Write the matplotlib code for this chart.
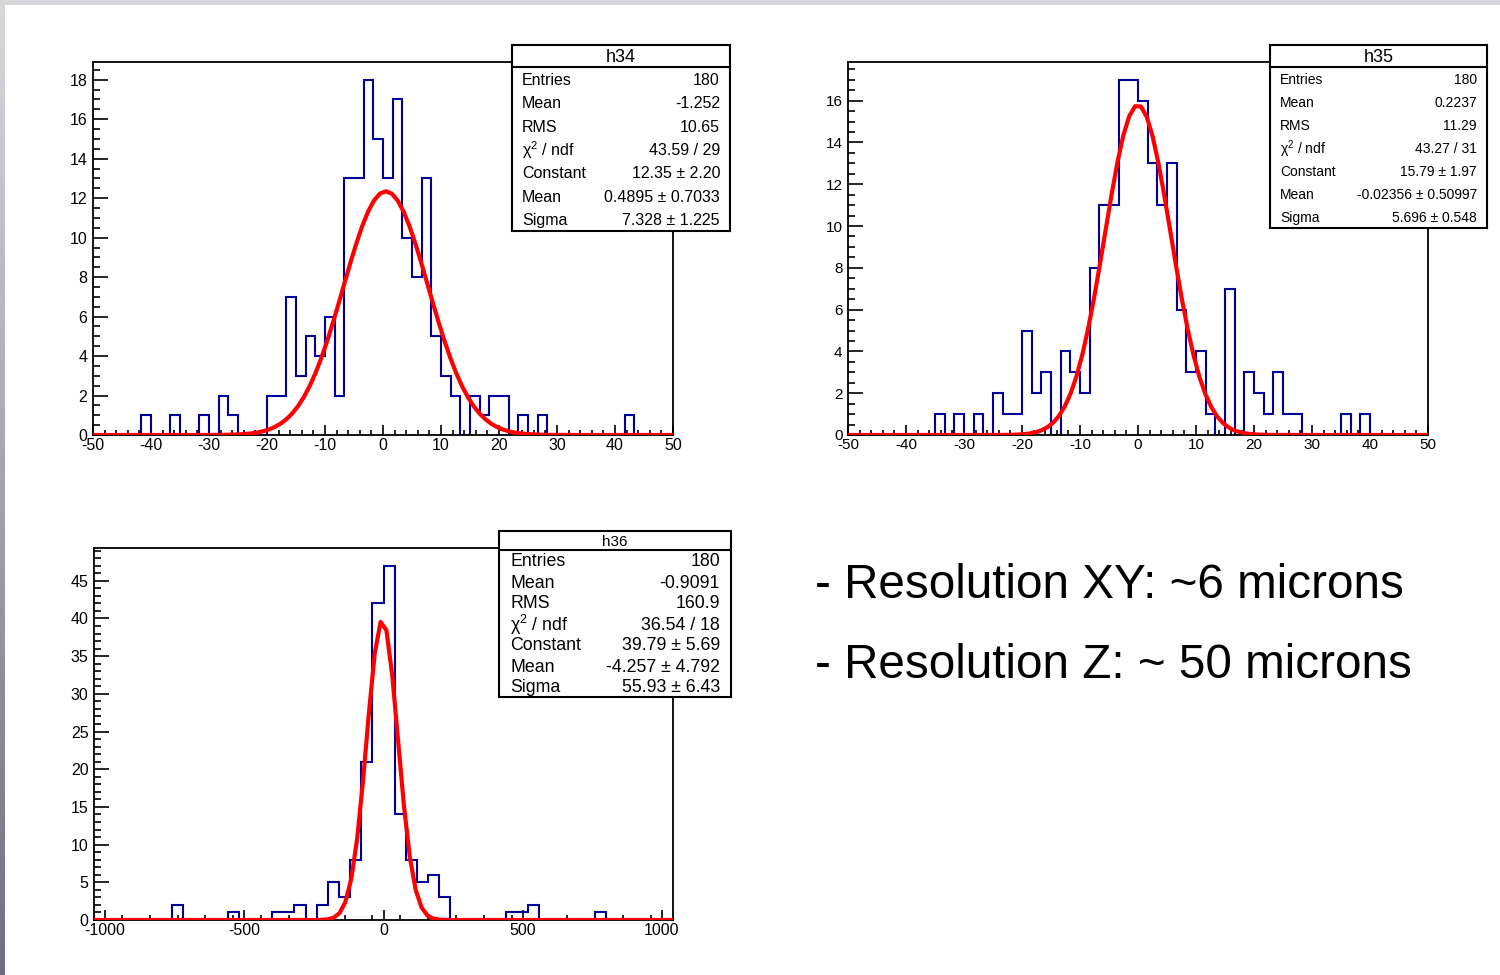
import numpy as np
import matplotlib
matplotlib.use("Agg")
import matplotlib.pyplot as plt

plt.rcParams['font.family'] = ['Liberation Sans', 'DejaVu Sans']
plt.rcParams['mathtext.fontset'] = 'custom'
plt.rcParams['mathtext.rm'] = 'Liberation Sans'
plt.rcParams['mathtext.it'] = 'Liberation Sans:italic'
plt.rcParams['axes.unicode_minus'] = False

# ---- data ----
h34_range = (-50, 50)
h34_counts = [0, 0, 0, 0, 0, 1, 0, 0, 1, 0,
              0, 1, 0, 2, 1, 0, 0, 0, 2, 2,
              7, 3, 5, 4, 6, 2, 13, 13, 18, 15,
              13, 17, 10, 8, 13, 5, 3, 2, 0, 2,
              1, 2, 2, 0, 1, 0, 1, 0, 0, 0,
              0, 0, 0, 0, 0, 1, 0, 0, 0, 0]
h34_fit = (12.35, 0.4895, 7.328)
h34_stats = [("Entries", "180"), ("Mean", "-1.252"), ("RMS", "10.65"),
             ("χ$^{2}$ / ndf", "43.59 / 29"), ("Constant", "12.35 ± 2.20"),
             ("Mean", "0.4895 ± 0.7033"), ("Sigma", "7.328 ± 1.225")]

h35_range = (-50, 50)
h35_counts = [0, 0, 0, 0, 0, 0, 0, 0, 0, 1,
              0, 1, 0, 1, 0, 2, 1, 1, 5, 2,
              3, 0, 4, 3, 2, 8, 11, 11, 17, 17,
              16, 13, 11, 13, 6, 3, 4, 1, 0, 7,
              0, 3, 2, 1, 3, 1, 1, 0, 0, 0,
              0, 1, 0, 1, 0, 0, 0, 0, 0, 0]
h35_fit = (15.79, -0.02356, 5.696)
h35_stats = [("Entries", "180"), ("Mean", "0.2237"), ("RMS", "11.29"),
             ("χ$^{2}$ / ndf", "43.27 / 31"), ("Constant", "15.79 ± 1.97"),
             ("Mean", "-0.02356 ± 0.50997"), ("Sigma", "5.696 ± 0.548")]

h36_range = (-1040, 1040)
h36_counts = [0, 0, 0, 0, 0, 0, 0, 2, 0, 0,
              0, 0, 1, 0, 0, 0, 1, 1, 2, 0,
              2, 5, 3, 8, 21, 42, 47, 14, 8, 5,
              6, 3, 0, 0, 0, 0, 0, 1, 1, 2,
              0, 0, 0, 0, 0, 1, 0, 0, 0, 0,
              0, 0]
h36_fit = (39.79, -4.257, 55.93)
h36_stats = [("Entries", "180"), ("Mean", "-0.9091"), ("RMS", "160.9"),
             ("χ$^{2}$ / ndf", "36.54 / 18"), ("Constant", "39.79 ± 5.69"),
             ("Mean", "-4.257 ± 4.792"), ("Sigma", "55.93 ± 6.43")]

notes = ["- Resolution XY: ~6 microns", "- Resolution Z: ~ 50 microns"]

W, H = 1500, 975
fig = plt.figure(figsize=(15, 9.75), dpi=100)
fig.patch.set_facecolor("white")


def px_axes(x0, y0, x1, y1, **kw):
    return fig.add_axes([x0 / W, 1 - y1 / H, (x1 - x0) / W, (y1 - y0) / H], **kw)


def draw_hist(box, counts, rng, fit, xmaj, xmin, ymaj, ymin, ymax, fs):
    ax = px_axes(*box)
    counts = np.array(counts)
    edges = np.linspace(rng[0], rng[1], len(counts) + 1)
    ax.stairs(counts, edges, baseline=0, color="#000099", lw=1.5, zorder=2)
    xs = np.linspace(rng[0], rng[1], 100)
    c, m, s = fit
    ax.plot(xs, c * np.exp(-0.5 * ((xs - m) / s) ** 2), color="red", lw=3, zorder=3)
    ax.set_xlim(*rng)
    ax.set_ylim(0, ymax)
    ax.set_xticks(np.arange(xmaj[0], xmaj[1] + 1, xmaj[2]))
    ax.set_xticks(np.arange(rng[0], rng[1] + 0.01, xmin), minor=True)
    ax.set_yticks(np.arange(0, ymax, ymaj))
    ax.set_yticks(np.arange(0, ymax, ymin), minor=True)
    ax.tick_params(axis="x", which="major", direction="in", length=7, width=1.2,
                   labelsize=fs, pad=2.5)
    ax.tick_params(axis="x", which="minor", direction="in", length=3.5, width=1.2)
    ax.tick_params(axis="y", which="major", direction="in", length=11, width=1.2,
                   labelsize=fs, pad=4)
    ax.tick_params(axis="y", which="minor", direction="in", length=5, width=1.2)
    for sp in ax.spines.values():
        sp.set_linewidth(1.3)
    return ax


def stats_box(x0, y0, x1, y1, title_h, title, rows, fs, title_fs, pad=10, dy=0):
    ax = px_axes(x0, y0, x1, y1, zorder=5)
    ax.set_xlim(x0, x1)
    ax.set_ylim(y1, y0)
    ax.set_xticks([])
    ax.set_yticks([])
    for sp in ax.spines.values():
        sp.set_linewidth(1.5)
    ax.axhline(y0 + title_h, color="black", lw=1.5)
    ax.text((x0 + x1) / 2, y0 + title_h / 2 + 1, title, ha="center", va="center",
            fontsize=title_fs)
    rh = (y1 - y0 - title_h) / len(rows)
    for i, (k, v) in enumerate(rows):
        yc = y0 + title_h + rh * (i + 0.5) + dy
        ax.text(x0 + pad, yc, k, ha="left", va="center", fontsize=fs)
        ax.text(x1 - pad, yc, v, ha="right", va="center", fontsize=fs)


draw_hist((93, 62, 673, 435), h34_counts, h34_range, h34_fit,
          (-50, 50, 10), 2, 2, 0.5, 18.9, 11.5)
draw_hist((848, 62, 1428, 435), h35_counts, h35_range, h35_fit,
          (-50, 50, 10), 2, 2, 0.5, 17.85, 11)
draw_hist((94, 548, 673, 920), h36_counts, h36_range, h36_fit,
          (-1000, 1000, 500), 100, 5, 1, 49.35, 11.5)

stats_box(512, 45, 730, 231, 22, "h34", h34_stats, 11.5, 13, dy=1.5)
stats_box(1270, 45, 1487, 228, 22, "h35", h35_stats, 10, 13, dy=1.5)
stats_box(499, 531, 731, 697, 19, "h36", h36_stats, 12.8, 11, pad=11, dy=1.5)

for i, t in enumerate(notes):
    fig.text(815 / W, 1 - (586 + 80 * i) / H, t, fontsize=34.3, ha="left", va="center")

# slide border: grey band on top, grey gradient on the left
top = px_axes(0, 0, W, 5, zorder=10)
top.set_axis_off()
top.add_patch(plt.Rectangle((0, 0), 1, 1, transform=top.transAxes, color="#d8d8dc"))
left = px_axes(0, 0, 5, H, zorder=10)
grad = np.linspace(0, 1, 256).reshape(-1, 1)
cmap = matplotlib.colors.LinearSegmentedColormap.from_list("edge", ["#d8d8dc", "#6e7080"])
left.imshow(grad, aspect="auto", cmap=cmap, extent=(0, 1, 1, 0))
left.set_axis_off()

fig.savefig("out.png", dpi=100)
